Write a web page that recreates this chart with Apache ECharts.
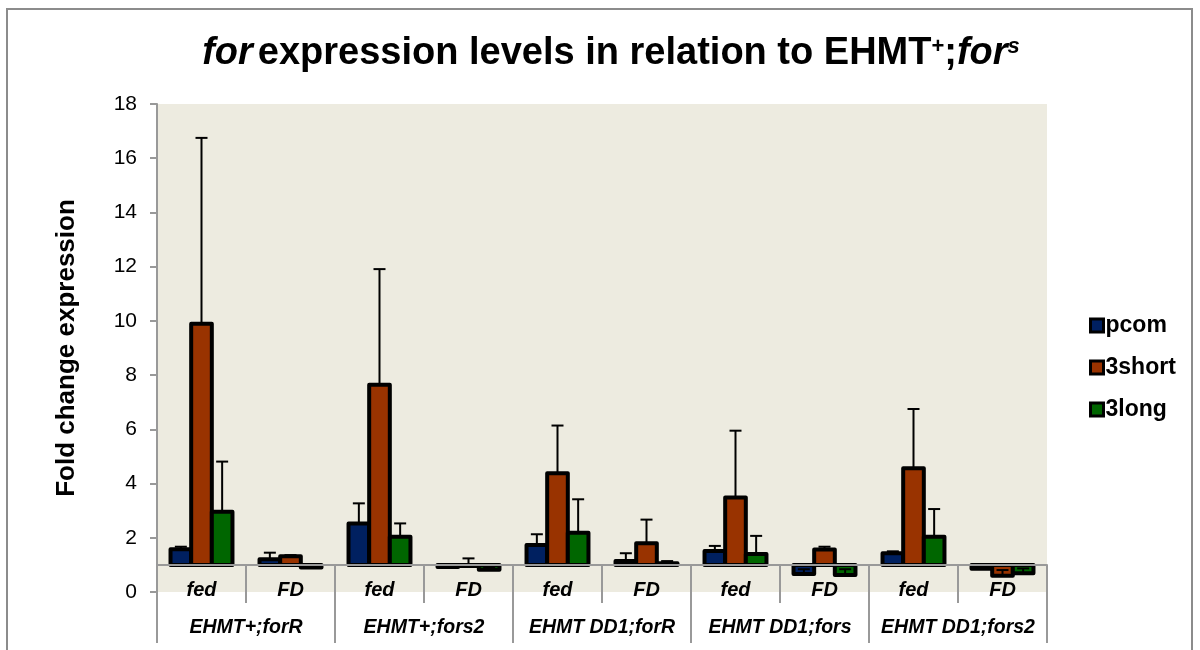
<!DOCTYPE html>
<html><head><meta charset="utf-8">
<script src="https://cdn.jsdelivr.net/npm/echarts@6/dist/echarts.min.js"></script>
<style>html,body{margin:0;padding:0;background:#fff}#c{width:1200px;height:650px}</style>
</head><body><div id="c"></div>
<script>
const categories = ['fed','FD','fed','FD','fed','FD','fed','FD','fed','FD'];
const groups = ['EHMT+;forR','EHMT+;fors2','EHMT DD1;forR','EHMT DD1;fors','EHMT DD1;fors2'];
const yTicks = [0,2,4,6,8,10,12,14,16,18];
const seriesNames = ['pcom','3short','3long'];
const pcom     = [1.58, 1.21, 2.53, 0.92, 1.73, 1.14, 1.51, 0.66, 1.43, 0.86];
const pcomErr  = [0.09, 0.24, 0.74, 0.02, 0.40, 0.29, 0.19, 0.18, 0.07, 0.02];
const short3   = [9.89, 1.32, 7.64, 0.96, 4.38, 1.80, 3.49, 1.57, 4.56, 0.60];
const short3Err= [6.86, 0.04, 4.27, 0.28, 1.76, 0.87, 2.46, 0.10, 2.19, 0.21];
const long3    = [2.96, 0.90, 2.04, 0.82, 2.19, 1.06, 1.40, 0.63, 2.04, 0.69];
const long3Err = [1.85, 0.03, 0.49, 0.10, 1.23, 0.08, 0.67, 0.21, 1.02, 0.18];
const baseline = 1;
const colors = ['#002060','#993300','#006600'];

const chart = echarts.init(document.getElementById('c'));
const font = '"Liberation Sans", Arial, sans-serif';

function makeRender(si) {
  return function (params, api) {
    const ci = api.value(0), v = api.value(1), e = api.value(2);
    const band = api.size([1, 0])[0];
    const bw = band * 0.232;
    const pb = api.coord([ci, baseline]);
    const pv = api.coord([ci, v]);
    const pe = api.coord([ci, v + e]);
    const x0 = pb[0] - 1.5 * bw + si * bw;
    const xm = x0 + bw / 2;
    const top = Math.min(pb[1], pv[1]);
    const h = Math.abs(pb[1] - pv[1]);
    return {
      type: 'group',
      children: [
        {type: 'rect', shape: {x: x0, y: top, width: bw, height: h},
         style: {fill: colors[si], stroke: '#000', lineWidth: 4, lineJoin: 'round'}},
        {type: 'line', shape: {x1: xm, y1: pv[1], x2: xm, y2: pe[1]},
         style: {stroke: '#000', lineWidth: 2}},
        {type: 'line', shape: {x1: xm - 6, y1: pe[1], x2: xm + 6, y2: pe[1]},
         style: {stroke: '#000', lineWidth: 2}}
      ]
    };
  };
}

const vals = [pcom, short3, long3];
const errs = [pcomErr, short3Err, long3Err];
const series = seriesNames.map((n, si) => ({
  name: n,
  type: 'custom',
  xAxisIndex: 0,
  yAxisIndex: 0,
  itemStyle: {color: colors[si]},
  renderItem: makeRender(si),
  encode: {x: 0, y: 1},
  data: categories.map((c, i) => [i, vals[si][i], errs[si][i]]),
  z: 2
}));

const unit = 488 / 18;

chart.setOption({
  animation: false,
  backgroundColor: '#fff',
  title: {
    text: '{i|for} {b|expression levels in relation to EHMT}{sup|+}{b|;}{i|for}{supi|s}',
    left: 606, top: 30, textAlign: 'center',
    textStyle: {
      rich: {
        i: {fontFamily: font, fontSize: 38, fontWeight: 'bold', fontStyle: 'italic', color: '#000'},
        b: {fontFamily: font, fontSize: 38, fontWeight: 'bold', color: '#000'},
        sup: {fontFamily: font, fontSize: 22, fontWeight: 'bold', color: '#000', padding: [0,0,14,0]},
        supi: {fontFamily: font, fontSize: 22, fontWeight: 'bold', fontStyle: 'italic', color: '#000', padding: [0,0,14,0]}
      }
    }
  },
  legend: {
    orient: 'vertical', left: 1084, top: 309,
    itemWidth: 13, itemHeight: 13, itemGap: 19,
    icon: 'rect',
    textStyle: {fontFamily: font, fontSize: 23, fontWeight: 'bold', color: '#000', padding: [0,0,0,-3]},
    data: seriesNames.map((n, si) => ({name: n, itemStyle: {color: colors[si], borderColor: '#000', borderWidth: 3}}))
  },
  graphic: [{
    type: 'rect', shape: {x: 7, y: 9, width: 1185, height: 700},
    style: {fill: 'none', stroke: '#8c8c8c', lineWidth: 2}, silent: true
  }],
  grid: {
    left: 157, right: 153, top: 104, bottom: 58,
    show: true, backgroundColor: '#EDEBE0', borderWidth: 0
  },
  xAxis: [{
    type: 'category', data: categories, position: 'bottom', offset: -unit,
    z: 5,
    axisLine: {show: true, lineStyle: {color: '#999', width: 2}},
    axisTick: {show: true, length: 38, lineStyle: {color: '#999', width: 2}},
    axisLabel: {interval: 0, margin: 16, fontFamily: font, fontSize: 20, fontWeight: 'bold', fontStyle: 'italic', color: '#000'},
    splitLine: {show: false}
  }, {
    type: 'category', data: groups, position: 'bottom', offset: -unit,
    axisLine: {show: false},
    axisTick: {show: true, interval: 0, length: 78, lineStyle: {color: '#999', width: 2}},
    axisLabel: {interval: 0, hideOverlap: false, margin: 53, fontFamily: font, fontSize: 19.5, fontWeight: 'bold', fontStyle: 'italic', color: '#000'},
    splitLine: {show: false}
  }],
  yAxis: {
    type: 'value', min: yTicks[0], max: yTicks[yTicks.length - 1], interval: 2,
    name: 'Fold change expression', nameLocation: 'middle', nameGap: 77, nameRotate: 90,
    nameTextStyle: {fontFamily: font, fontSize: 26, fontWeight: 'bold', color: '#000'},
    axisLine: {show: true, lineStyle: {color: '#999', width: 2}},
    axisTick: {show: true, length: 7, lineStyle: {color: '#999', width: 2}},
    axisLabel: {margin: 20, fontFamily: font, fontSize: 21, color: '#000'},
    splitLine: {show: false}
  },
  series: series
});
</script></body></html>
